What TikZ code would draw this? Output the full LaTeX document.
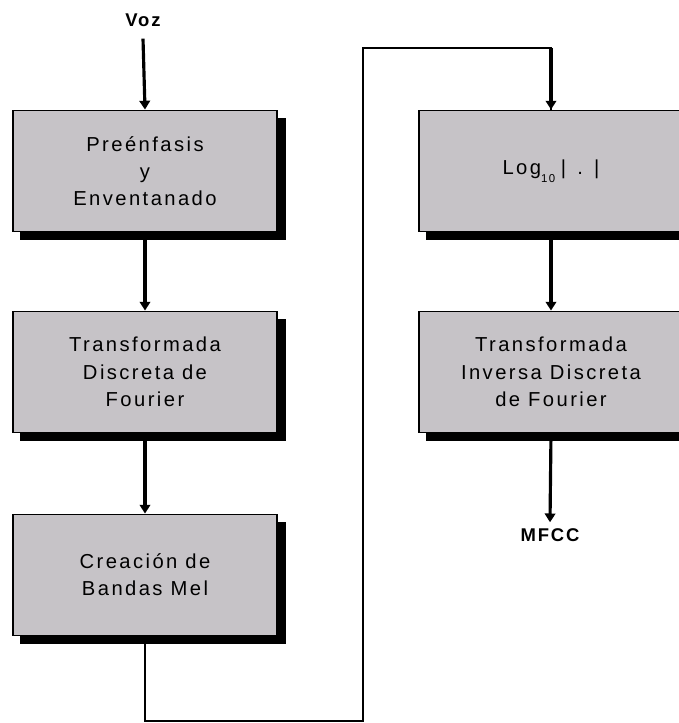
\documentclass[tikz,border=0pt]{standalone}
\usepackage{fontspec}
\usepackage{tikz}
\usetikzlibrary{positioning, arrows.meta, shadows}
\newfontfamily\blockFont[LetterSpace=12]{Liberation Sans}
\newfontfamily\labelFont[LetterSpace=10]{Liberation Sans}
\tikzstyle{pixels} = [x = 0.02cm, y = -0.02cm]
\definecolor{blockColor}{RGB}{198,195,199}
\tikzstyle{blockStyle} = [draw=black, fill=blockColor, line width=1.1pt,
  minimum width=5.28cm, minimum height=2.42cm, align=center,
  font=\blockFont\fontsize{11.5}{15.5}\selectfont,
  copy shadow={shadow xshift=.16cm, shadow yshift=-.16cm, fill=black, draw=black}]
\tikzstyle{flowArrow} = [line width=1.8pt, -{Triangle[width=6pt, length=5pt]}]
\tikzstyle{loopLine} = [line width=0.9pt]
\tikzstyle{labelText} = [font=\labelFont\bfseries\fontsize{10.5}{12}\selectfont]
\newcommand{\lowSub}[1]{\raisebox{-0.7ex}{\fontsize{6.5}{7}\selectfont #1}}

\begin{document}
\begin{tikzpicture}[pixels]
      \useasboundingbox (0,0) rectangle (679,723);
      \clip (0,0) rectangle (679,723);

      % left column
      \node [labelText] (voz) at (143, 20) {Voz};
      \node [blockStyle] (preenf) at (145, 171) {Preénfasis\\y\\Enventanado};
      \node [blockStyle] (dft) at (145, 372) {Transformada\\Discreta de\\Fourier};
      \node [blockStyle] (mel) at (145, 575) {Creación de\\Bandas Mel};

      % right column
      \node [blockStyle] (logmag) at (551, 171) {Log\lowSub{10}\;|\;\;.\;\;|};
      \node [blockStyle] (idft) at (551, 372) {Transformada\\Inversa Discreta\\de Fourier};
      \node [labelText] (mfcc) at (550, 535) {MFCC};

      \coordinate (loopBottom) at (363, 721);
      \coordinate (loopTop) at (363, 48);

      \draw [flowArrow] (voz.south) ++(0,6) -- (preenf.north);
      \draw [flowArrow] (preenf.south) -- (dft.north);
      \draw [flowArrow] (dft.south) -- (mel.north);
      \draw [loopLine] (mel.south) |- (loopBottom) -- (loopTop) -| (logmag.north);
      \draw [flowArrow] (loopTop -| logmag.north) -- (logmag.north);
      \draw [flowArrow] (logmag.south) -- (idft.north);
      \draw [flowArrow] (idft.south) -- (mfcc.north);
    \end{tikzpicture}
\end{document}
